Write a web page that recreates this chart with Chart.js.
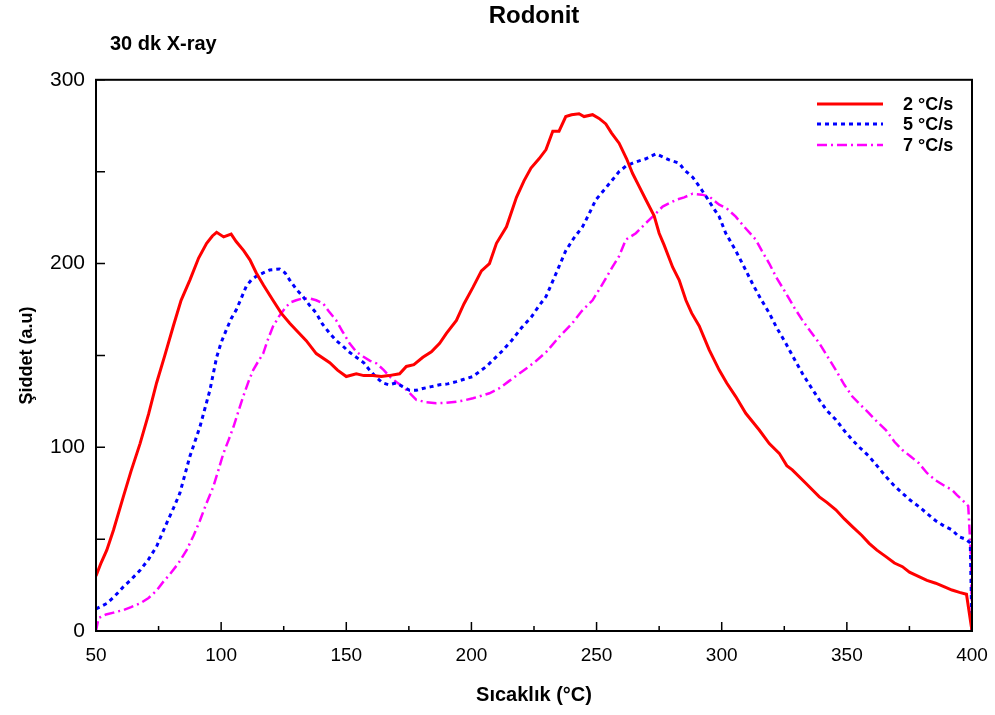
<!DOCTYPE html>
<html>
<head>
<meta charset="utf-8">
<script src="https://cdn.jsdelivr.net/npm/chart.js@4.4.1/dist/chart.umd.min.js"></script>
<style>
  html, body { margin: 0; padding: 0; background: #fff; }
  #wrap { width: 995px; height: 715px; }
</style>
</head>
<body>
<div id="wrap"><canvas id="c"></canvas></div>
<script>
// 2 oC/s
const temps2 = [50, 52, 54.3, 57, 60.9, 64, 67.6, 71, 74.2, 77.5, 80.9, 84, 87.5, 91, 94.2, 96.5, 98.2, 101, 104, 106, 109, 111.5, 114, 117, 120.7, 124, 127.4, 130.5, 134, 138, 143.4, 146.5, 150, 154, 157, 160.6, 164, 167, 171.3, 174, 177, 180.6, 184, 187.3, 190, 194, 197, 200.6, 204, 207.2, 210, 214, 218, 221, 223.8, 227, 229.8, 232.5, 235, 237.7, 240, 243, 245, 248.4, 251, 253.7, 256, 259, 262, 264.4, 267, 269.7, 273, 275, 277, 280.4, 283, 285.7, 288, 291, 295, 299, 302, 305.6, 309.6, 315, 319, 323, 326, 328.2, 333.6, 339, 342, 345.6, 349, 352.2, 356, 358.9, 362, 365.6, 369, 372.2, 375, 378.8, 382, 385.5, 389, 392, 395, 397.8, 400];
const values2 = [30, 37, 44, 55, 73, 87, 102, 118, 135, 150, 166, 180, 191, 203, 211, 215, 217, 214.5, 216, 212, 207, 202, 195, 188, 180, 173, 167.5, 163, 158, 151, 146, 142, 138.5, 140, 139, 139, 138.5, 139, 140, 144, 145, 149, 152, 156.6, 162, 169, 178, 187, 196, 200, 211, 220, 236, 245, 252, 257, 262, 272, 272, 280, 281, 281.5, 280, 281, 279, 276, 271, 265.5, 257, 249, 242, 234.7, 226, 216.5, 210, 198, 191, 180, 173, 166, 153, 142, 135, 127.6, 118.5, 109.4, 102, 96.7, 90, 87.7, 80.4, 73, 70, 66, 61, 56.8, 52, 47.7, 44, 40.5, 37, 35, 32, 29.6, 27.5, 26, 24, 22.3, 21, 20, 0];

// 5 oC/s
const temps5 = [50, 54.3, 57.5, 60.9, 64, 67.6, 71, 74.2, 78.2, 81, 83.5, 85.5, 87.5, 89.5, 91.5, 93.5, 95.5, 98.2, 100, 102.1, 104, 106.1, 108, 110, 112, 114, 117, 119.4, 123.4, 125.5, 127.4, 130, 132.7, 135.5, 138, 140.5, 143.4, 146, 148.7, 151, 154, 157, 159.3, 162, 164.6, 167, 170, 172.5, 175.3, 178, 180.6, 184, 187.3, 190.5, 194, 197, 200.6, 203, 206, 209, 212, 216, 220, 224, 227, 229.8, 233, 235.5, 237.7, 241, 244.4, 247, 249.7, 253, 256.3, 259, 261.7, 265, 269.7, 273.7, 276.5, 279, 283, 285, 288.4, 291, 294, 296.3, 299, 301.6, 305.6, 309, 312.3, 315.5, 319, 322, 325.6, 329, 332.3, 336, 339, 342, 345.6, 349, 352.2, 355, 358.9, 362, 365.6, 369, 372.2, 375.5, 378.8, 382, 385.5, 389, 392, 394.8, 397.4, 399.3, 400];
const values5 = [12, 15, 19, 24, 28, 33, 39, 46, 58.6, 67, 75, 85, 95, 103, 111, 121, 131, 149, 157, 164, 170, 175, 181, 187.5, 191, 193, 195, 196.5, 197, 195, 191, 186, 182, 177, 173, 167, 162, 158, 155, 152, 149, 146, 142, 138, 135, 134, 135, 133, 131, 131, 132, 133, 134, 134.5, 135.7, 137, 138.5, 141, 144, 148, 152, 158, 165, 171, 177, 182, 192, 200, 207, 214, 220, 227, 234.7, 240, 245.5, 250, 253, 255, 257, 259.7, 258, 256.4, 254.6, 251, 247, 242, 236, 231, 225.5, 216.5, 207, 198, 189, 181, 173, 165, 156.6, 148, 140, 132, 125.8, 120, 115, 109, 104, 100, 95, 90, 84, 79, 75, 71, 67.7, 64, 60, 57, 55, 51.3, 50, 48, 0];

// 7 oC/s
const temps7 = [50, 51, 54, 57, 60.9, 64, 67.6, 71, 74.2, 77, 79.6, 83, 86.2, 89, 91.5, 94, 96.9, 99, 100.9, 103, 104.9, 107, 108.8, 111, 112.8, 114.5, 116.8, 118.5, 120.7, 123, 126, 128, 130, 132.5, 135.3, 138, 140.7, 143, 146, 148.5, 151.3, 154, 156.7, 159.5, 162, 165, 167.3, 170, 172.6, 175, 178, 182, 186, 190, 194, 197, 200.6, 204, 207.2, 211, 215, 220, 225, 230, 235, 240, 244, 248.4, 252, 256.3, 259, 261.7, 265.7, 269.7, 272.4, 276.4, 281.8, 285, 288.4, 292, 295, 299, 302, 305.6, 309, 313.6, 316, 319, 322, 325.6, 329, 332.3, 335.5, 339, 342, 345.6, 349, 352.2, 355.5, 358.9, 362, 365.6, 369, 372.2, 375.5, 378.8, 382, 385.5, 389, 392, 394, 396.1, 398.5, 399.6, 400];
const values7 = [0, 7, 9, 10, 11.4, 13, 15, 18, 22, 27, 31, 37, 44, 52, 60, 69, 78.6, 88, 96.7, 104, 111, 120, 127.6, 136, 142, 146, 151, 158, 165.7, 171, 176.6, 179, 180, 181, 181, 180, 178.4, 174, 169, 163, 156.6, 152, 149.4, 147, 145.7, 142, 138.5, 135.5, 133, 130, 125.8, 124.5, 124, 124.2, 124.8, 125.5, 126.7, 128, 129.4, 132, 136, 141, 146, 152, 160, 167, 174, 180, 188, 198, 204, 213, 216.5, 222, 225.5, 231, 234.7, 236, 238, 237.5, 236.5, 232, 230, 225.5, 220, 213, 207, 200, 192, 184, 176, 169, 163, 156.6, 150, 142, 134, 127.6, 123, 118.5, 114, 109.4, 103, 98.5, 95, 91.3, 86, 82, 79, 76.8, 74, 71.3, 68, 40, 0];

const seriesLabels = ['2 °C/s', '5 °C/s', '7 °C/s'];
const xTicks = [50, 100, 150, 200, 250, 300, 350, 400];
const yTicks = [0, 100, 200, 300];

const pairs = (xs, ys) => xs.map((x, i) => ({x: x, y: ys[i]}));

const styles = [
    {color: '#ff0000', width: 3, dash: []},
    {color: '#0000ff', width: 3, dash: [4, 4]},
    {color: '#ff00ff', width: 2.5, dash: [10, 4, 2, 4]}
];

const framePlugin = {
    id: 'frame',
    afterDraw(chart) {
        const ctx = chart.ctx;
        const a = chart.chartArea;
        const xs = chart.scales.x, ys = chart.scales.y;
        ctx.save();
        ctx.strokeStyle = '#000';
        ctx.lineWidth = 1.5;
        ctx.beginPath();
        for (let t = 50; t <= 400; t += 25) {
            const px = xs.getPixelForValue(t);
            const len = (t % 50 === 0) ? 9 : 5;
            ctx.moveTo(px, a.bottom);
            ctx.lineTo(px, a.bottom - len);
        }
        for (let v = 0; v <= 300; v += 50) {
            const py = ys.getPixelForValue(v);
            ctx.moveTo(a.left, py);
            ctx.lineTo(a.left + 9, py);
        }
        ctx.stroke();
        ctx.lineWidth = 2;
        ctx.strokeRect(a.left, a.top, a.right - a.left, a.bottom - a.top);

        // subtitle
        ctx.fillStyle = '#000';
        ctx.font = 'bold 20px "Liberation Sans", Arial, sans-serif';
        ctx.textAlign = 'left';
        ctx.textBaseline = 'middle';
        ctx.fillText('30 dk X-ray', 110, 44);

        // legend
        const rows = [104, 124, 145];
        ctx.font = 'bold 18px "Liberation Sans", Arial, sans-serif';
        styles.forEach((s, i) => {
            ctx.strokeStyle = s.color;
            ctx.lineWidth = s.width;
            ctx.setLineDash(s.dash);
            ctx.beginPath();
            ctx.moveTo(817, rows[i]);
            ctx.lineTo(883, rows[i]);
            ctx.stroke();
            ctx.setLineDash([]);
            ctx.fillText(seriesLabels[i], 903, rows[i] + 1);
        });
        ctx.restore();
    }
};

const datasets = [pairs(temps2, values2), pairs(temps5, values5), pairs(temps7, values7)].map((d, i) => ({
    label: seriesLabels[i],
    data: d,
    showLine: true,
    borderColor: styles[i].color,
    borderWidth: styles[i].width,
    borderDash: styles[i].dash,
    pointRadius: 0,
    tension: 0,
    fill: false
}));

new Chart(document.getElementById('c'), {
    type: 'scatter',
    data: {datasets: datasets},
    options: {
        responsive: true,
        maintainAspectRatio: false,
        animation: false,
        events: [],
        layout: {padding: {left: 0, right: 23, top: 0, bottom: 0}},
        plugins: {
            legend: {display: false},
            tooltip: {enabled: false},
            title: {
                display: true,
                text: 'Rodonit',
                fullSize: false,
                color: '#000',
                font: {family: '"Liberation Sans", Arial, sans-serif', size: 24, weight: 'bold'},
                padding: {top: 2, bottom: 49}
            }
        },
        scales: {
            x: {
                type: 'linear',
                min: 50,
                max: 400,
                afterFit(s) { s.height = 84; s.paddingLeft = 0; s.paddingRight = 0; },
                afterBuildTicks(s) { s.ticks = xTicks.map(v => ({value: v})); },
                grid: {display: false, drawTicks: false},
                border: {display: false},
                ticks: {
                    color: '#000',
                    padding: 13,
                    maxRotation: 0,
                    font: {family: '"Liberation Sans Narrow", "Liberation Sans", Arial, sans-serif', size: 19}
                },
                title: {
                    display: true,
                    text: 'Sıcaklık (°C)',
                    color: '#000',
                    font: {family: '"Liberation Sans", Arial, sans-serif', size: 20, weight: 'bold'},
                    padding: {top: 0, bottom: 8}
                }
            },
            y: {
                min: 0,
                max: 300,
                afterFit(s) { s.width = 96; },
                afterBuildTicks(s) { s.ticks = yTicks.map(v => ({value: v})); },
                grid: {display: false, drawTicks: false},
                border: {display: false},
                ticks: {
                    color: '#000',
                    padding: 11,
                    font: {family: '"Liberation Sans", Arial, sans-serif', size: 21}
                },
                title: {
                    display: true,
                    text: 'Şiddet (a.u)',
                    color: '#000',
                    font: {family: '"Liberation Sans", Arial, sans-serif', size: 18, weight: 'bold'},
                    padding: {top: 16, bottom: 0}
                }
            }
        }
    },
    plugins: [framePlugin]
});
</script>
</body>
</html>
